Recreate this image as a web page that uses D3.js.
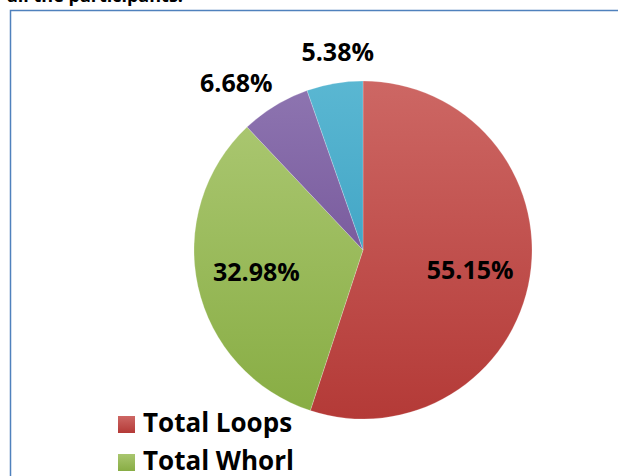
<!DOCTYPE html>
<html>
<head>
    <script type="text/javascript" src="https://d3js.org/d3.v7.min.js"></script>
    <style>
        body { margin: 0; background: #ffffff; }
        text { font-family: "Open Sans", Lato, sans-serif; font-weight: bold; }
    </style>
</head>
<body>
    <svg width="618" height="476"></svg>
    <script>
        // pattern share
        const categories = ["Total Loops", "Total Whorl", "Total Arches", "Composite"];
        const percents = [55.15, 32.98, 6.68, 5.38];
        const labels = ["55.15%", "32.98%", "6.68%", "5.38%"];

        // gradient stops (light top, dark bottom) per slice
        const lightColors = ["#cd6764", "#a9c66f", "#8d74b0", "#5ab7d2"];
        const darkColors = ["#b43a37", "#88ad44", "#7a5c9e", "#43a6c6"];

        // label placement: radius, angle nudge in degrees
        const labelRadius = [109, 109, 210, 200];
        const labelNudge = [1.4, 0.7, -5.8, 2.4];

        const svg = d3.select("svg");
        const cx = 363, cy = 250, R = 169;

        // gradients
        const defs = svg.append("defs");
        categories.forEach((c, i) => {
            const g = defs.append("linearGradient")
                .attr("id", "grad" + i)
                .attr("x1", 0).attr("y1", 0).attr("x2", 0).attr("y2", 1);
            g.append("stop").attr("offset", "0%").attr("stop-color", lightColors[i]);
            g.append("stop").attr("offset", "100%").attr("stop-color", darkColors[i]);
        });

        // partial title, cut off by the top edge
        svg.append("text")
            .attr("x", 7)
            .attr("y", 2)
            .attr("font-size", 18)
            .attr("fill", "#000")
            .text("all the participants.");

        // chart frame
        svg.append("path")
            .attr("d", "M10.5,476 L10.5,10.5 L618,10.5")
            .attr("fill", "none")
            .attr("stroke", "#4f81bd")
            .attr("stroke-width", 1.5);

        const pie = d3.pie().sort(null).value(d => d);
        const arcs = pie(percents);
        const arc = d3.arc().innerRadius(0).outerRadius(R);

        const plot = svg.append("g").attr("transform", `translate(${cx},${cy})`);

        plot.selectAll("path.slice")
            .data(arcs)
            .enter()
            .append("path")
            .attr("class", "slice")
            .attr("d", arc)
            .attr("fill", (d, i) => `url(#grad${i})`)
            .attr("stroke", "rgba(255,255,255,0.35)")
            .attr("stroke-width", 0.6);

        plot.selectAll("text.lbl")
            .data(arcs)
            .enter()
            .append("text")
            .attr("class", "lbl")
            .attr("transform", (d, i) => {
                const a = (d.startAngle + d.endAngle) / 2 + labelNudge[i] * Math.PI / 180;
                const r = labelRadius[i];
                return `translate(${r * Math.sin(a)},${-r * Math.cos(a)})`;
            })
            .attr("text-anchor", "middle")
            .attr("dy", "0.36em")
            .attr("font-size", 25)
            .attr("fill", "#000")
            .text((d, i) => labels[i]);

        // legend (only the first two entries fit in the picture)
        const legend = svg.append("g").attr("transform", "translate(118,416)");
        const rows = legend.selectAll("g")
            .data(categories.slice(0, 2))
            .enter()
            .append("g")
            .attr("transform", (d, i) => `translate(0,${i * 38})`);
        rows.append("rect")
            .attr("width", 17)
            .attr("height", 17)
            .attr("fill", (d, i) => `url(#grad${i})`);
        rows.append("text")
            .attr("x", 25)
            .attr("y", 16)
            .attr("font-size", 26)
            .attr("fill", "#000")
            .text(d => d);
    </script>
</body>
</html>
